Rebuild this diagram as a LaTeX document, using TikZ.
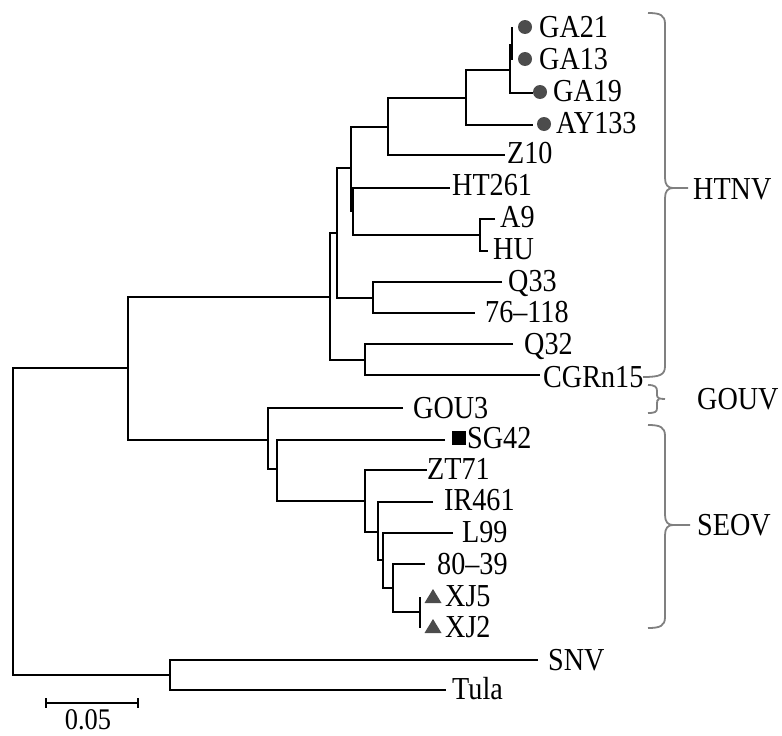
\documentclass[tikz,border=0pt]{standalone}
\usepackage{fontspec}
\setmainfont{Liberation Serif}[FakeStretch=0.88]
\usetikzlibrary{calc}
\begin{document}
\begin{tikzpicture}[x=1pt,y=-1pt,
  br/.style={line width=2.8pt, line join=miter},
  lab/.style={anchor=west, inner sep=0pt, font=\fontsize{32}{32}\selectfont, text height=21pt, text depth=0pt},
  grp/.style={anchor=west, inner sep=0pt, font=\fontsize{32}{32}\selectfont, text height=21pt, text depth=0pt},
  brc/.style={draw=black!50, line width=1.8pt},
  mk/.style={fill=black!70}]
\useasboundingbox (0,0) rectangle (782,736);
% branch ends and internal nodes
\coordinate (GA21) at (512,27); \coordinate (GA13) at (512,60); \coordinate (n1) at (512,45);
\coordinate (GA19) at (533,93); \coordinate (n2) at (510,70);
\coordinate (AY133) at (533,125); \coordinate (n3) at (466,98);
\coordinate (Z10) at (505,155); \coordinate (n4) at (388,127);
\coordinate (A9) at (495,219); \coordinate (HU) at (488,251); \coordinate (n5) at (480,235);
\coordinate (HT261) at (450,188); \coordinate (n6) at (353,211);
\coordinate (n7) at (351,168);
\coordinate (Q33) at (502,282); \coordinate (S76) at (475,313); \coordinate (n8) at (373,298);
\coordinate (n9) at (337,233);
\coordinate (Q32) at (513,344); \coordinate (CG) at (540,375); \coordinate (n10) at (365,360);
\coordinate (n11) at (330,297);
\coordinate (GOU3) at (403,408); \coordinate (n12) at (268,440);
\coordinate (SG42) at (445,440); \coordinate (n13) at (277,469);
\coordinate (ZT71) at (427,470); \coordinate (n14) at (365,501);
\coordinate (IR) at (433,502); \coordinate (n15) at (378,532);
\coordinate (L99) at (453,533); \coordinate (n16) at (383,560);
\coordinate (S80) at (425,564); \coordinate (n17) at (393,588);
\coordinate (XJ5) at (420,597); \coordinate (XJ2) at (420,628); \coordinate (n18) at (420,612);
\coordinate (n19) at (128,368);
\coordinate (SNV) at (538,660); \coordinate (Tula) at (446,690); \coordinate (n20) at (170,675);
\coordinate (root) at (13,522);
% tree
\draw[br] (GA21) -| (n1) |- (GA13);
\draw[br] (n1) -| (n2) |- (GA19);
\draw[br] (n2) -| (n3) |- (AY133);
\draw[br] (n3) -| (n4) |- (Z10);
\draw[br] (A9) -| (n5) |- (HU);
\draw[br] (HT261) -| (n6) |- (n5);
\draw[br] (n4) -| (n7) |- (n6);
\draw[br] (Q33) -| (n8) |- (S76);
\draw[br] (n7) -| (n9) |- (n8);
\draw[br] (Q32) -| (n10) |- (CG);
\draw[br] (n9) -| (n11) |- (n10);
\draw[br] (GOU3) -| (n12) |- (n13);
\draw[br] (SG42) -| (n13) |- (n14);
\draw[br] (ZT71) -| (n14) |- (n15);
\draw[br] (IR) -| (n15) |- (n16);
\draw[br] (L99) -| (n16) |- (n17);
\draw[br] (S80) -| (n17) |- (n18);
\draw[br] (XJ5) -| (n18) |- (XJ2);
\draw[br] (n11) -| (n19) |- (n12);
\draw[br] (n19) -| (root) |- (n20);
\draw[br] (SNV) -| (n20) |- (Tula);
% markers
\fill[mk] (525,27) circle (7);
\fill[mk] (525,59) circle (7);
\fill[mk] (540,92) circle (7);
\fill[mk] (544,124) circle (7);
\fill[black] (452,431) rectangle (466,445);
\fill[mk] (424.5,603) -- (441.5,603) -- (433,589) -- cycle;
\fill[mk] (424.5,633) -- (441.5,633) -- (433,619) -- cycle;
% labels
\node[lab] (lGA21) at (539,27) {GA21};
\node[lab] (lGA13) at (539,59) {GA13};
\node[lab] (lGA19) at (553,91) {GA19};
\node[lab] (lAY) at (556,123) {AY133};
\node[lab] (lZ10) at (507,153) {Z10};
\node[lab] (lHT) at (452,185) {HT261};
\node[lab] (lA9) at (500,217) {A9};
\node[lab] (lHU) at (493,249) {HU};
\node[lab] (lQ33) at (508,281) {Q33};
\node[lab] (l76) at (485,312) {76--118};
\node[lab] (lQ32) at (524,344) {Q32};
\node[lab] (lCG) at (543,377) {CGRn15};
\node[lab] (lGOU) at (413,408) {GOU3};
\node[lab] (lSG) at (467,438) {SG42};
\node[lab] (lZT) at (427,469) {ZT71};
\node[lab] (lIR) at (444,500) {IR461};
\node[lab] (lL99) at (462,532) {L99};
\node[lab] (l80) at (437,564) {80--39};
\node[lab] (lXJ5) at (445,596) {XJ5};
\node[lab] (lXJ2) at (445,627) {XJ2};
\node[lab] (lSNV) at (548,660) {SNV};
\node[lab] (lTula) at (452,689) {Tula};
% scale bar
\coordinate (sb1) at (46,703); \coordinate (sb2) at (138,703);
\draw[line width=2.2pt] (sb1) -- (sb2);
\draw[line width=2.2pt] ($(sb1)+(0,-5)$) -- ($(sb1)+(0,5)$);
\draw[line width=2.2pt] ($(sb2)+(0,-5)$) -- ($(sb2)+(0,5)$);
\node[inner sep=0pt, font=\fontsize{30}{30}\selectfont, text height=19pt, text depth=0pt] (sbl) at (88,720) {0.05};
% braces
\draw[brc] (648,13) .. controls (660,13) and (665,15) .. (665,24) -- (665,178)
  .. controls (665,185) and (668,188) .. (673,188) -- (688,188);
\draw[brc] (673,188) .. controls (668,188) and (665,191) .. (665,198) -- (665,366)
  .. controls (665,375) and (660,377) .. (643,377);
\draw[brc] (648,385) .. controls (655,385) and (657,387) .. (657,391) -- (657,395)
  .. controls (657,398) and (659,399) .. (665,399);
\draw[brc] (659,399) .. controls (657,400) and (657,401) .. (657,404) -- (657,408)
  .. controls (657,412) and (655,413) .. (648,413);
\draw[brc] (648,425) .. controls (660,425) and (665,427) .. (665,436) -- (665,515)
  .. controls (665,522) and (668,525) .. (673,525) -- (690,525);
\draw[brc] (673,525) .. controls (668,525) and (665,528) .. (665,535) -- (665,617)
  .. controls (665,626) and (660,628) .. (648,628);
\node[grp] (gHTNV) at (693,189) {HTNV};
\node[grp] (gGOUV) at (697,399) {GOUV};
\node[grp] (gSEOV) at (697,525) {SEOV};
\end{tikzpicture}
\end{document}
